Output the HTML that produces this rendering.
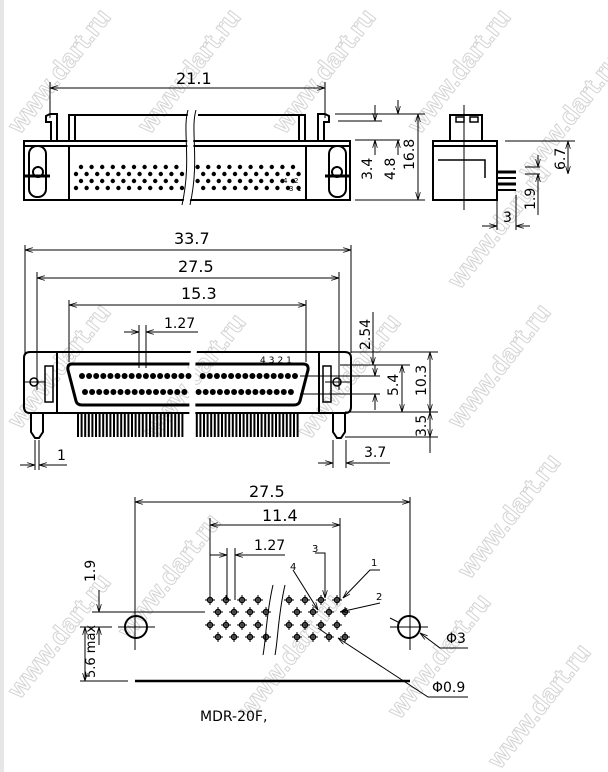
<!DOCTYPE html>
<html><head><meta charset="utf-8"><style>
html,body{margin:0;padding:0;background:#fff}
svg{display:block}
text{font-family:"DejaVu Sans","Liberation Sans",sans-serif;fill:#000}
.wm{font-family:"Liberation Sans",sans-serif;font-size:26px;fill:none;stroke:#d4d4d4;stroke-width:1;font-weight:bold}
</style></head><body>
<svg width="608" height="772" viewBox="0 0 608 772" xmlns="http://www.w3.org/2000/svg">
<defs>
<marker id="a" viewBox="0 0 10 6" refX="10" refY="3" markerWidth="8" markerHeight="5" orient="auto-start-reverse"><path d="M0,0 L10,3 L0,6" fill="none" stroke="#000" stroke-width="1"/></marker>
</defs>
<rect x="0" y="0" width="4" height="772" fill="#e6e6e6"/>
<g>
<text class="wm" transform="translate(20,135) rotate(-52)">www.dart.ru</text>
<text class="wm" transform="translate(150,135) rotate(-52)">www.dart.ru</text>
<text class="wm" transform="translate(285,135) rotate(-52)">www.dart.ru</text>
<text class="wm" transform="translate(420,135) rotate(-52)">www.dart.ru</text>
<text class="wm" transform="translate(20,430) rotate(-52)">www.dart.ru</text>
<text class="wm" transform="translate(155,440) rotate(-52)">www.dart.ru</text>
<text class="wm" transform="translate(310,440) rotate(-52)">www.dart.ru</text>
<text class="wm" transform="translate(460,430) rotate(-52)">www.dart.ru</text>
<text class="wm" transform="translate(460,290) rotate(-52)">www.dart.ru</text>
<text class="wm" transform="translate(470,580) rotate(-52)">www.dart.ru</text>
<text class="wm" transform="translate(130,640) rotate(-52)">www.dart.ru</text>
<text class="wm" transform="translate(250,720) rotate(-52)">www.dart.ru</text>
<text class="wm" transform="translate(400,720) rotate(-52)">www.dart.ru</text>
<text class="wm" transform="translate(20,700) rotate(-52)">www.dart.ru</text>
<text class="wm" transform="translate(530,180) rotate(-52)">www.dart.ru</text>
<text class="wm" transform="translate(500,770) rotate(-52)">www.dart.ru</text>
</g>

<g stroke="#000" fill="none" stroke-width="1">
<line x1="50" y1="88" x2="325" y2="88" marker-start="url(#a)" marker-end="url(#a)"/>
<line x1="50" y1="82" x2="50" y2="118"/>
<line x1="325" y1="82" x2="325" y2="118"/>
<g stroke-width="2">
<rect x="24" y="141" width="326" height="59"/>
<line x1="24" y1="146" x2="350" y2="146"/>
<line x1="69" y1="146" x2="69" y2="200"/>
<line x1="306" y1="146" x2="306" y2="200"/>
<path d="M69,141 V115 H192 M198,115 H305 V141"/>
<line x1="75" y1="115" x2="75" y2="141"/>
<line x1="299" y1="115" x2="299" y2="141"/>
<path d="M51,141 V122 H46 V116 L50,114 H57 V141"/>
<path d="M324,141 V122 H329 V116 L325,114 H318 V141"/>
<rect x="29" y="146" width="17" height="51" rx="8"/>
<rect x="329" y="146" width="17" height="51" rx="8"/>
</g>
<circle cx="38" cy="172" r="5" stroke-width="2"/>
<circle cx="337" cy="172" r="5" stroke-width="2"/>
<line x1="24" y1="176" x2="50" y2="176" stroke-width="3"/>
<line x1="325" y1="176" x2="350" y2="176" stroke-width="3"/>
<path d="M192,110 C186,130 196,160 186,205" stroke="#fff" stroke-width="6"/>
<path d="M188,110 C182,130 192,160 182,205"/>
<path d="M196,110 C190,130 200,160 190,205"/>
</g>
<g fill="#000" id="dots1"></g>

<g stroke="#000" fill="none" stroke-width="1">
<line x1="335" y1="114" x2="425" y2="114"/>
<line x1="338" y1="121" x2="382" y2="121"/>
<line x1="355" y1="140" x2="400" y2="140"/>
<line x1="355" y1="200" x2="425" y2="200"/>
<line x1="375" y1="105" x2="375" y2="121" marker-end="url(#a)"/>
<line x1="375" y1="155" x2="375" y2="140" marker-end="url(#a)"/>
<line x1="398" y1="100" x2="398" y2="114" marker-end="url(#a)"/>
<line x1="398" y1="155" x2="398" y2="140" marker-end="url(#a)"/>
<line x1="418" y1="114" x2="418" y2="200" marker-start="url(#a)" marker-end="url(#a)"/>
<g stroke-width="2">
<rect x="433" y="141" width="64" height="59"/>
<line x1="433" y1="146" x2="497" y2="146"/>
<path d="M450,141 V115 H482 V141"/>
<rect x="456" y="117" width="8" height="5" stroke-width="1.5"/>
<rect x="470" y="117" width="8" height="5" stroke-width="1.5"/>
<path d="M438,160 H485 V178" stroke-width="1.5"/>
</g>
<line x1="464" y1="105" x2="464" y2="210"/>
<line x1="497" y1="172" x2="516" y2="172" stroke-width="3"/>
<line x1="497" y1="178" x2="516" y2="178" stroke-width="2"/>
<line x1="497" y1="184" x2="516" y2="184" stroke-width="3"/>
<line x1="497" y1="190" x2="516" y2="190" stroke-width="2"/>
<line x1="505" y1="141" x2="575" y2="141"/>
<line x1="525" y1="167" x2="540" y2="167"/>
<line x1="525" y1="174" x2="540" y2="174"/>
<line x1="568" y1="141" x2="568" y2="174" marker-start="url(#a)" marker-end="url(#a)"/>
<line x1="538" y1="155" x2="538" y2="167" marker-end="url(#a)"/>
<line x1="538" y1="215" x2="538" y2="174" marker-end="url(#a)"/>
<line x1="497" y1="200" x2="497" y2="230"/>
<line x1="516" y1="195" x2="516" y2="230"/>
<line x1="482" y1="226" x2="497" y2="226" marker-end="url(#a)"/>
<line x1="530" y1="226" x2="516" y2="226" marker-end="url(#a)"/>

<line x1="25" y1="250" x2="351" y2="250" marker-start="url(#a)" marker-end="url(#a)"/>
<line x1="37" y1="278" x2="339" y2="278" marker-start="url(#a)" marker-end="url(#a)"/>
<line x1="69" y1="305" x2="306" y2="305" marker-start="url(#a)" marker-end="url(#a)"/>
<line x1="25" y1="245" x2="25" y2="353"/>
<line x1="351" y1="245" x2="351" y2="353"/>
<line x1="37" y1="272" x2="37" y2="390"/>
<line x1="339" y1="272" x2="339" y2="390"/>
<line x1="69" y1="300" x2="69" y2="362"/>
<line x1="306" y1="300" x2="306" y2="362"/>
<line x1="139" y1="325" x2="139" y2="368"/>
<line x1="146" y1="325" x2="146" y2="368"/>
<line x1="124" y1="332" x2="139" y2="332" marker-end="url(#a)"/>
<line x1="198" y1="332" x2="146" y2="332" marker-end="url(#a)"/>
<g stroke-width="2">
<path d="M30,352 H192 M200,352 H345 Q351,352 351,358 V407 Q351,413 345,413 H30 Q24,413 24,407 V358 Q24,352 30,352 Z" />
<line x1="57" y1="352" x2="57" y2="413"/>
<line x1="319" y1="352" x2="319" y2="413"/>
<rect x="45" y="366" width="8" height="36" stroke-width="1.5"/>
<rect x="323" y="366" width="8" height="36" stroke-width="1.5"/>
<path d="M72,364 H303 Q309,364 308,370 L300,401 Q299,405 294,405 H82 Q77,405 76,401 L68,370 Q67,364 72,364 Z" stroke-width="3"/>
<path d="M31,413 V432 L35,438 H39 L43,432 V413"/>
<path d="M333,413 V432 L337,438 H341 L345,432 V413"/>
</g>
<circle cx="34" cy="382" r="4" stroke-width="1.5"/>
<circle cx="337" cy="382" r="4" stroke-width="1.5"/>
<line x1="24" y1="382" x2="45" y2="382"/>
<line x1="325" y1="382" x2="351" y2="382"/>
<line x1="300" y1="376" x2="380" y2="376"/>
<line x1="300" y1="394" x2="380" y2="394"/>
<line x1="351" y1="352" x2="438" y2="352"/>
<line x1="340" y1="365" x2="410" y2="365"/>
<line x1="345" y1="412" x2="438" y2="412"/>
<line x1="345" y1="437" x2="438" y2="437"/>
<line x1="373" y1="312" x2="373" y2="365" marker-end="url(#a)"/>
<line x1="375" y1="365" x2="375" y2="376" marker-end="url(#a)"/>
<line x1="375" y1="410" x2="375" y2="394" marker-end="url(#a)"/>
<line x1="402" y1="365" x2="402" y2="412" marker-start="url(#a)" marker-end="url(#a)"/>
<line x1="430" y1="352" x2="430" y2="412" marker-start="url(#a)" marker-end="url(#a)"/>
<line x1="430" y1="412" x2="430" y2="437" marker-start="url(#a)" marker-end="url(#a)"/>
<line x1="430" y1="437" x2="430" y2="453"/>
<line x1="35" y1="440" x2="35" y2="470"/>
<line x1="39" y1="440" x2="39" y2="470"/>
<line x1="20" y1="465" x2="35" y2="465" marker-end="url(#a)"/>
<line x1="67" y1="465" x2="39" y2="465" marker-end="url(#a)"/>
<line x1="333" y1="440" x2="333" y2="468"/>
<line x1="346" y1="440" x2="346" y2="468"/>
<line x1="318" y1="463" x2="333" y2="463" marker-end="url(#a)"/>
<line x1="390" y1="463" x2="346" y2="463" marker-end="url(#a)"/>
<path d="M195,345 C188,380 196,400 190,440" stroke="#fff" stroke-width="6"/>
</g>
<g fill="#000" id="dots2"></g>
<g stroke="#000" stroke-width="2" id="pins2"></g>

<g stroke="#000" fill="none" stroke-width="1">
<line x1="135" y1="502" x2="410" y2="502" marker-start="url(#a)" marker-end="url(#a)"/>
<line x1="135" y1="497" x2="135" y2="650"/>
<line x1="410" y1="497" x2="410" y2="650"/>
<line x1="210" y1="525" x2="340" y2="525" marker-start="url(#a)" marker-end="url(#a)"/>
<line x1="210" y1="518" x2="210" y2="600"/>
<line x1="340" y1="518" x2="340" y2="600"/>
<line x1="227" y1="548" x2="227" y2="600"/>
<line x1="235" y1="548" x2="235" y2="600"/>
<line x1="210" y1="555" x2="227" y2="555" marker-end="url(#a)"/>
<line x1="285" y1="555" x2="235" y2="555" marker-end="url(#a)"/>
<circle cx="136" cy="627" r="11" stroke-width="2"/>
<circle cx="409" cy="627" r="11" stroke-width="2"/>
<line x1="118" y1="627" x2="155" y2="627"/>
<line x1="390" y1="627" x2="428" y2="627"/>
<line x1="92" y1="612" x2="205" y2="612"/>
<line x1="80" y1="627" x2="112" y2="627"/>
<line x1="80" y1="681" x2="128" y2="681"/>
<line x1="135" y1="681" x2="410" y2="681" stroke-width="2.5"/>
<line x1="99" y1="590" x2="99" y2="612" marker-end="url(#a)"/>
<line x1="99" y1="645" x2="99" y2="627" marker-end="url(#a)"/>
<line x1="85" y1="627" x2="85" y2="681" marker-start="url(#a)" marker-end="url(#a)"/>
<path d="M273,585 C266,615 266,640 263,655"/>
<path d="M285,585 C278,615 278,640 275,655"/>
<path d="M380,570 H370 L343,598" marker-end="url(#a)"/>
<path d="M380,603 L340,612" marker-end="url(#a)"/>
<path d="M315,553 H325 V598" marker-end="url(#a)"/>
<path d="M293,570 L318,610" marker-end="url(#a)"/>
<path d="M468,648 H440 L420,633" marker-end="url(#a)"/>
<path d="M390,618 L400,623"/>
<path d="M468,697 H428 L338,638" marker-end="url(#a)"/>
<path d="M318,628 L328,635"/>
</g>
<g id="holes" stroke="#000" fill="none"></g>

<text x="176" y="84" font-size="16">21.1</text>
<text x="174" y="244" font-size="16">33.7</text>
<text x="178" y="272" font-size="16">27.5</text>
<text x="181" y="299" font-size="16">15.3</text>
<text x="164" y="328" font-size="14">1.27</text>
<text x="260" y="363" font-size="9" letter-spacing="3">4321</text>
<text x="283" y="183" font-size="7">4</text><text x="294" y="183" font-size="7">2</text>
<text x="289" y="191" font-size="7">3</text><text x="297" y="191" font-size="7">1</text>
<text font-size="14" transform="translate(372,180) rotate(-90)">3.4</text>
<text font-size="14" transform="translate(395,180) rotate(-90)">4.8</text>
<text font-size="14" transform="translate(414,170) rotate(-90)">16.8</text>
<text font-size="14" transform="translate(565,170) rotate(-90)">6.7</text>
<text font-size="14" transform="translate(535,210) rotate(-90)">1.9</text>
<text x="503" y="222" font-size="14">3</text>
<text font-size="14" transform="translate(370,350) rotate(-90)">2.54</text>
<text font-size="14" transform="translate(398,396) rotate(-90)">5.4</text>
<text font-size="14" transform="translate(426,396) rotate(-90)">10.3</text>
<text font-size="14" transform="translate(426,437) rotate(-90)">3.5</text>
<text x="57" y="460" font-size="14">1</text>
<text x="364" y="457" font-size="14">3.7</text>
<text x="249" y="497" font-size="16">27.5</text>
<text x="262" y="521" font-size="16">11.4</text>
<text x="254" y="550" font-size="14">1.27</text>
<text x="312" y="552" font-size="10">3</text>
<text x="290" y="570" font-size="10">4</text>
<text x="371" y="566" font-size="10">1</text>
<text x="376" y="600" font-size="10">2</text>
<text font-size="14" transform="translate(95,582) rotate(-90)">1.9</text>
<text font-size="13" transform="translate(95,678) rotate(-90)">5.6 max</text>
<text x="446" y="643" font-size="14">Φ3</text>
<text x="432" y="692" font-size="14">Φ0.9</text>
<text x="200" y="721" font-size="14">MDR-20F,</text>
</svg>
<script>
(function(){
var NS="http://www.w3.org/2000/svg";
function el(p,t,a){var e=document.createElementNS(NS,t);for(var k in a)e.setAttribute(k,a[k]);p.appendChild(e);return e;}
var d1=document.getElementById('dots1');
[[167,81],[174,76],[181,81],[188,76]].forEach(function(r){for(var x=r[1];x<300;x+=10.6){if(Math.abs(x-190)<4)continue;el(d1,'circle',{cx:x,cy:r[0],r:2.2});}});
var d2=document.getElementById('dots2');
[[376,82,298],[392,85,292]].forEach(function(r){for(var x=r[1];x<r[2];x+=7.1){if(Math.abs(x-193)<3)continue;el(d2,'circle',{cx:x,cy:r[0],r:3});}});
var p2=document.getElementById('pins2');
for(var x=78;x<298;x+=3.6){if(x>183&&x<195)continue;el(p2,'line',{x1:x,y1:414,x2:x,y2:437});}
var h=document.getElementById('holes');
var cols1=[210,226,242,258,289,305,321,337];
[[600,0],[612,8],[625,0],[637,8]].forEach(function(r){cols1.forEach(function(c){var x=c+r[1];if(x>345)return;
el(h,'circle',{cx:x,cy:r[0],r:2.5,'stroke-width':1.5});
el(h,'line',{x1:x-5,y1:r[0],x2:x+5,y2:r[0],'stroke-width':1});
el(h,'line',{x1:x,y1:r[0]-5,x2:x,y2:r[0]+5,'stroke-width':1});});});
})();
</script>
</body></html>
